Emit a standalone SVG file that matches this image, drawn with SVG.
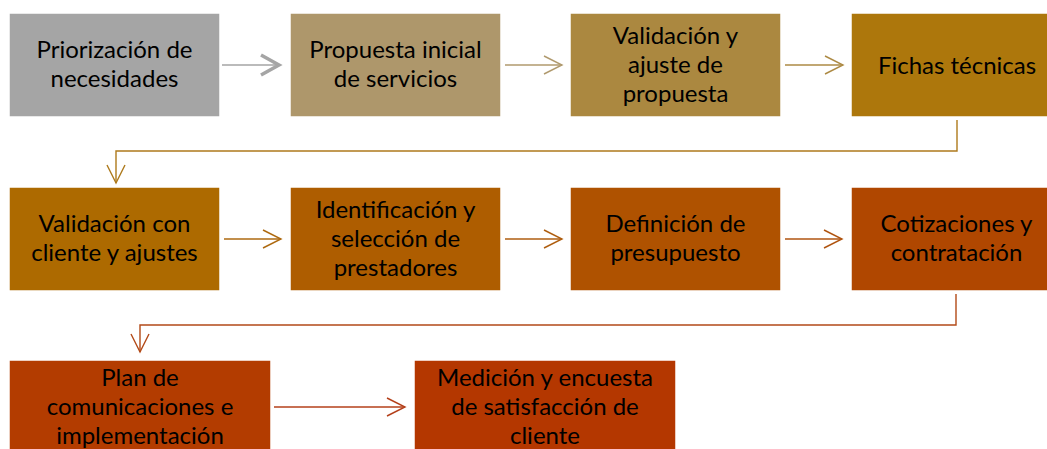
<svg xmlns="http://www.w3.org/2000/svg" width="1047" height="449" viewBox="0 0 1047 449">
<style>
.box{stroke:#FFFFFF;stroke-width:1.5}
.t{font-family:Lato,"Liberation Sans",sans-serif;font-size:24px;fill:#000;text-anchor:middle}
.c{fill:none;stroke-width:1.4}
</style>
<defs>
<marker id="mg" markerUnits="userSpaceOnUse" markerWidth="24" markerHeight="24" refX="20" refY="12" orient="auto" viewBox="0 0 24 24"><path d="M2,2 L20,12 L2,22" fill="none" stroke="#A5A5A5" stroke-width="3.5"/></marker>
<marker id="m2" markerUnits="userSpaceOnUse" markerWidth="22" markerHeight="22" refX="19" refY="11" orient="auto" viewBox="0 0 22 22"><path d="M1,2 L19,11 L1,20" fill="none" stroke="#B09A6E" stroke-width="1.4"/></marker>
<marker id="m3" markerUnits="userSpaceOnUse" markerWidth="22" markerHeight="22" refX="19" refY="11" orient="auto" viewBox="0 0 22 22"><path d="M1,2 L19,11 L1,20" fill="none" stroke="#AD8A44" stroke-width="1.4"/></marker>
<marker id="m4" markerUnits="userSpaceOnUse" markerWidth="22" markerHeight="22" refX="19" refY="11" orient="auto" viewBox="0 0 22 22"><path d="M1,2 L19,11 L1,20" fill="none" stroke="#AE7A1C" stroke-width="1.4"/></marker>
<marker id="m5" markerUnits="userSpaceOnUse" markerWidth="22" markerHeight="22" refX="19" refY="11" orient="auto" viewBox="0 0 22 22"><path d="M1,2 L19,11 L1,20" fill="none" stroke="#AE6A10" stroke-width="1.4"/></marker>
<marker id="m6" markerUnits="userSpaceOnUse" markerWidth="22" markerHeight="22" refX="19" refY="11" orient="auto" viewBox="0 0 22 22"><path d="M1,2 L19,11 L1,20" fill="none" stroke="#AF5E10" stroke-width="1.4"/></marker>
<marker id="m7" markerUnits="userSpaceOnUse" markerWidth="22" markerHeight="22" refX="19" refY="11" orient="auto" viewBox="0 0 22 22"><path d="M1,2 L19,11 L1,20" fill="none" stroke="#B05410" stroke-width="1.4"/></marker>
<marker id="m8" markerUnits="userSpaceOnUse" markerWidth="22" markerHeight="22" refX="19" refY="11" orient="auto" viewBox="0 0 22 22"><path d="M1,2 L19,11 L1,20" fill="none" stroke="#B34A18" stroke-width="1.4"/></marker>
<marker id="m9" markerUnits="userSpaceOnUse" markerWidth="22" markerHeight="22" refX="19" refY="11" orient="auto" viewBox="0 0 22 22"><path d="M1,2 L19,11 L1,20" fill="none" stroke="#B4401A" stroke-width="1.4"/></marker>
</defs>

<g id="connectors">
<path class="c" d="M222,65 H279" stroke="#A5A5A5" stroke-width="4" marker-end="url(#mg)"/>
<path class="c" d="M505,65 H562" stroke="#B09A6E" marker-end="url(#m2)"/>
<path class="c" d="M785,65 H843" stroke="#AD8A44" marker-end="url(#m3)"/>
<path class="c" d="M957,120 V151 H116 V183" stroke="#AE7A1C" marker-end="url(#m4)"/>
<path class="c" d="M224,239 H281" stroke="#AE6A10" marker-end="url(#m5)"/>
<path class="c" d="M505,239 H562" stroke="#AF5E10" marker-end="url(#m6)"/>
<path class="c" d="M785,239 H842" stroke="#B05410" marker-end="url(#m7)"/>
<path class="c" d="M956,294 V325 H140 V352" stroke="#B34A18" marker-end="url(#m8)"/>
<path class="c" d="M274,407 H405" stroke="#B4401A" marker-end="url(#m9)"/>
</g>

<g id="n1"><rect class="box" x="9" y="13" width="211" height="104" fill="#A5A5A5"/>
<text class="t" x="114.5" y="58">Priorización de</text><text class="t" x="114.5" y="87">necesidades</text></g>
<g id="n2"><rect class="box" x="290" y="13" width="211" height="104" fill="#AE976B"/>
<text class="t" x="395.5" y="58">Propuesta inicial</text><text class="t" x="395.5" y="87">de servicios</text></g>
<g id="n3"><rect class="box" x="570" y="13" width="211" height="104" fill="#AB8840"/>
<text class="t" x="675.5" y="44">Validación y</text><text class="t" x="675.5" y="73">ajuste de</text><text class="t" x="675.5" y="102">propuesta</text></g>
<g id="n4"><rect class="box" x="851" y="13" width="211" height="104" fill="#AD770C"/>
<text class="t" x="957" y="74">Fichas técnicas</text></g>

<g id="n5"><rect class="box" x="9" y="187" width="211" height="104" fill="#AD6A00"/>
<text class="t" x="114.5" y="232">Validación con</text><text class="t" x="114.5" y="261">cliente y ajustes</text></g>
<g id="n6"><rect class="box" x="290" y="187" width="211" height="104" fill="#AE5D00"/>
<text class="t" x="395.5" y="218">Identificación y</text><text class="t" x="395.5" y="247">selección de</text><text class="t" x="395.5" y="276">prestadores</text></g>
<g id="n7"><rect class="box" x="570" y="187" width="211" height="104" fill="#AF5200"/>
<text class="t" x="675.5" y="232">Definición de</text><text class="t" x="675.5" y="261">presupuesto</text></g>
<g id="n8"><rect class="box" x="851" y="187" width="211" height="104" fill="#B04700"/>
<text class="t" x="956.5" y="232">Cotizaciones y</text><text class="t" x="956.5" y="261">contratación</text></g>

<g id="n9"><rect class="box" x="9" y="360" width="262" height="104" fill="#B33C00"/>
<text class="t" x="140" y="386">Plan de</text><text class="t" x="140" y="415">comunicaciones e</text><text class="t" x="140" y="444">implementación</text></g>
<g id="n10"><rect class="box" x="414" y="360" width="262" height="104" fill="#B43700"/>
<text class="t" x="545" y="386">Medición y encuesta</text><text class="t" x="545" y="415">de satisfacción de</text><text class="t" x="545" y="444">cliente</text></g>
</svg>
